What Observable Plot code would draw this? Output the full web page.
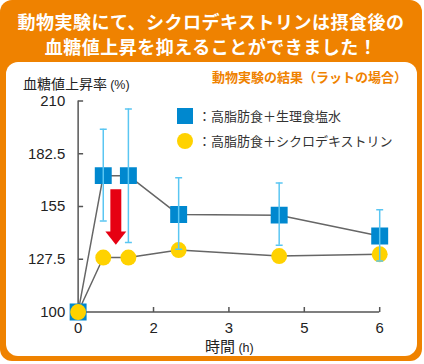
<!DOCTYPE html>
<html>
<head>
<meta charset="utf-8">
<script src="https://cdn.jsdelivr.net/npm/d3@7"></script>
<script src="https://cdn.jsdelivr.net/npm/@observablehq/plot@0.6"></script>
<style>
  html, body { margin: 0; padding: 0; background: #fff; }
  #card { position: relative; width: 422px; height: 361px; background: #ef8200; border-radius: 12px; overflow: hidden;
          font-family: "Noto Sans CJK JP", "Liberation Sans", sans-serif; }
  #title { position: absolute; left: 0; top: 9px; width: 422px; text-align: center; color: #fff; font-weight: bold;
           font-size: 18px; line-height: 25px; letter-spacing: 0.5px; }
  #panel { position: absolute; left: 6px; top: 62px; width: 411px; height: 294px; background: #fff; border-radius: 12px; }
  #chart { position: absolute; left: 0; top: 0; }
  .lbl { position: absolute; white-space: nowrap; color: #222; }
  #sub { left: 212px; top: 67px; color: #ef8200; font-weight: bold; font-size: 13px; line-height: 20px; }
  #ylab { left: 23px; top: 74px; font-size: 14px; line-height: 18px; }
  #xlab { left: 205px; top: 338px; font-size: 15px; line-height: 16px; }
  .unit { font-family: "Liberation Sans", sans-serif; font-size: 12.5px; }
  .leg { font-size: 13px; line-height: 20px; color: #333; }
  .sw { position: absolute; }
</style>
</head>
<body>
<div id="card">
  <div id="title">動物実験にて、シクロデキストリンは摂食後の<br>血糖値上昇を抑えることができました！</div>
  <div id="panel"></div>
  <div class="lbl" id="sub"></div>
  <div class="lbl" id="ylab">血糖値上昇率 <span class="unit">(%)</span></div>
  <div class="lbl" id="xlab">時間 <span class="unit">(h)</span></div>
  <div id="legend"></div>
  <div id="chart"></div>
</div>
<script>
// ---- data ----
const times = [0, 0.5, 1, 2, 4, 6];                       // hours
const salineMean = [100, 171.1, 171.1, 150.8, 150.5, 139.6];
const salineHigh = [100, 195.3, 205.9, 170.0, 167.3, 153.3];
const salineLow  = [100, 147.4, 136.2, 132.7, 134.8, 126.6];
const cycloMean  = [100, 128.4, 128.4, 132.3, 129.2, 130.1];
const seriesNames = ["高脂肪食＋生理食塩水", "高脂肪食＋シクロデキストリン"];
const seriesColors = ["#0088cf", "#ffd200"];
const yTicks = [100, 127.5, 155, 182.5, 210];
const xTicks = [0, 1.5, 3, 4.5, 6];
const xTickLabels = ["0", "2", "3", "5", "6"];
const subtitle = "動物実験の結果（ラットの場合）";
const arrowTime = 0.75, arrowFrom = 163.8, arrowTo = 141.5;

document.getElementById("sub").textContent = subtitle;

// legend
const legend = document.getElementById("legend");
seriesNames.forEach((name, i) => {
  const y = 116 + i * 25;
  const sw = document.createElement("div");
  sw.className = "sw";
  sw.style.left = "177px"; sw.style.top = (y - 8) + "px";
  sw.style.width = "16px"; sw.style.height = "16px";
  sw.style.background = seriesColors[i];
  if (i === 1) sw.style.borderRadius = "50%";
  legend.appendChild(sw);
  const t = document.createElement("div");
  t.className = "lbl leg";
  t.style.left = "198px"; t.style.top = (y - 10) + "px";
  t.textContent = "：" + name;
  legend.appendChild(t);
});

const saline = times.map((t, i) => ({t, v: salineMean[i], hi: salineHigh[i], lo: salineLow[i]}));
const cyclo = times.map((t, i) => ({t, v: cycloMean[i]}));
const errs = saline.slice(1);

const hTick = {draw(ctx) { ctx.moveTo(0, 0); ctx.lineTo(5, 0); }};
const vTick = {draw(ctx) { ctx.moveTo(0, 0); ctx.lineTo(0, -5); }};
const cap = {draw(ctx) { ctx.moveTo(-3.5, 0); ctx.lineTo(3.5, 0); }};
const head = {draw(ctx) { ctx.moveTo(-10.5, -1); ctx.lineTo(10.5, -1); ctx.lineTo(0, 12.5); ctx.closePath(); }};

const axisColor = "#555";
const chart = Plot.plot({
  width: 424, height: 364,
  marginLeft: 78, marginRight: 43, marginTop: 101, marginBottom: 51,
  style: {background: "transparent", fontSize: "15px", fontFamily: "Liberation Sans, Arial, sans-serif", color: "#222", overflow: "visible"},
  x: {domain: [0, 6]},
  y: {domain: [100, 210]},
  marks: [
    Plot.ruleX([0], {stroke: axisColor, strokeWidth: 1.5}),
    Plot.ruleY([100], {stroke: axisColor, strokeWidth: 1.5}),
    Plot.dot(yTicks, {x: 0, y: d => d, symbol: hTick, r: 5, stroke: axisColor, strokeWidth: 1.5, fill: "none"}),
    Plot.dot(xTicks, {x: d => d, y: 100, symbol: vTick, r: 5, stroke: axisColor, strokeWidth: 1.5, fill: "none"}),
    Plot.axisY({ticks: yTicks, tickSize: 0, tickPadding: 13, tickFormat: d => String(d), label: null}),
    Plot.axisX({ticks: xTicks, tickSize: 0, tickPadding: 10, tickFormat: d => xTickLabels[xTicks.indexOf(d)], label: null}),
    Plot.line(saline, {x: "t", y: "v", stroke: "#666", strokeWidth: 1.5}),
    Plot.line(cyclo, {x: "t", y: "v", stroke: "#666", strokeWidth: 1.5}),
    Plot.ruleX([arrowTime], {y1: arrowFrom, y2: arrowTo, stroke: "#e60012", strokeWidth: 11}),
    Plot.dot([arrowTime], {x: d => d, y: arrowTo, symbol: head, r: 10, fill: "#e60012", stroke: "none"}),
    Plot.dot(saline, {x: "t", y: "v", symbol: "square", r: 9.6, fill: seriesColors[0]}),
    Plot.dot(cyclo, {x: "t", y: "v", symbol: "circle", r: 8, fill: seriesColors[1]}),
    Plot.ruleX(errs, {x: "t", y1: "lo", y2: "hi", stroke: "#5ac6f2", strokeWidth: 1.5}),
    Plot.dot(errs, {x: "t", y: "hi", symbol: cap, r: 3, stroke: "#5ac6f2", strokeWidth: 1.5, fill: "none"}),
    Plot.dot(errs, {x: "t", y: "lo", symbol: cap, r: 3, stroke: "#5ac6f2", strokeWidth: 1.5, fill: "none"})
  ]
});
document.getElementById("chart").appendChild(chart);
</script>
</body>
</html>
